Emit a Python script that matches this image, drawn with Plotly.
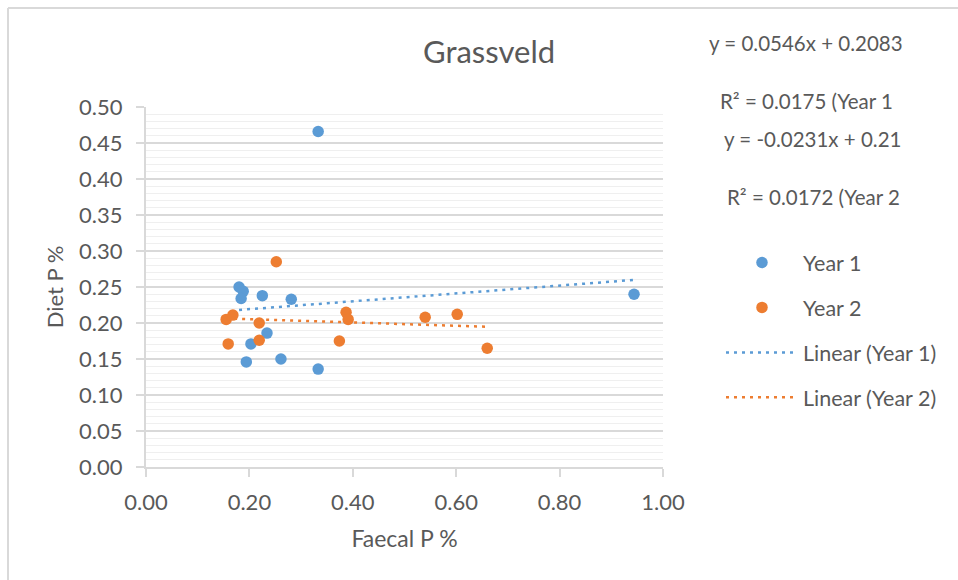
import plotly.graph_objects as go

# Faecal P % (x) and Diet P % (y) per sampling year
year1_faecal = [0.333, 0.180, 0.188, 0.184, 0.225, 0.281, 0.234, 0.203, 0.194, 0.261, 0.333, 0.944]
year1_diet = [0.466, 0.250, 0.244, 0.234, 0.238, 0.233, 0.186, 0.171, 0.146, 0.150, 0.136, 0.240]

year2_faecal = [0.252, 0.155, 0.168, 0.219, 0.219, 0.159, 0.374, 0.387, 0.391, 0.540, 0.602, 0.660]
year2_diet = [0.285, 0.205, 0.211, 0.200, 0.176, 0.171, 0.175, 0.215, 0.205, 0.208, 0.212, 0.165]

# Linear trendline coefficients (slope, intercept, R²)
trend1 = (0.0546, 0.2083, 0.0175)
trend2 = (-0.0231, 0.21, 0.0172)

x_ticks = [0.0, 0.2, 0.4, 0.6, 0.8, 1.0]
y_ticks = [0.00, 0.05, 0.10, 0.15, 0.20, 0.25, 0.30, 0.35, 0.40, 0.45, 0.50]

BLUE = "#5B9BD5"
ORANGE = "#ED7D31"
TEXT = "#595959"
FONT = "Lato"


def trend_points(xs, coef):
    lo, hi = min(xs), max(xs)
    return [lo, hi], [coef[0] * lo + coef[1], coef[0] * hi + coef[1]]


fig = go.Figure()
fig.add_trace(go.Scatter(x=year1_faecal, y=year1_diet, mode="markers", name="Year 1",
                         legendgroup="g1",
                         marker=dict(color=BLUE, size=11.5, line=dict(width=0))))
fig.add_trace(go.Scatter(x=year2_faecal, y=year2_diet, mode="markers", name="Year 2",
                         legendgroup="g2",
                         marker=dict(color=ORANGE, size=11.5, line=dict(width=0))))
tx, ty = trend_points(year1_faecal, trend1)
fig.add_trace(go.Scatter(x=tx, y=ty, mode="lines", name="Linear (Year 1)", legendgroup="g3",
                         line=dict(color=BLUE, width=2.5, dash="3px,5px")))
tx, ty = trend_points(year2_faecal, trend2)
fig.add_trace(go.Scatter(x=tx, y=ty, mode="lines", name="Linear (Year 2)", legendgroup="g4",
                         line=dict(color=ORANGE, width=2.5, dash="3px,5px")))

L, R, T, B = 146, 295, 107, 113
W, H = 958, 580
pw, ph = W - L - R, H - T - B


def px(xp):
    return (xp - L) / pw


def py(yp):
    return (H - B - yp) / ph


fmt = lambda v: f"{v:.2f}"

fig.update_layout(
    width=W, height=H,
    margin=dict(l=L, r=R, t=T, b=B, pad=0),
    paper_bgcolor="white", plot_bgcolor="white",
    font=dict(family=FONT, color=TEXT, size=22),
    showlegend=True,
    legend=dict(x=px(721), y=py(242), xanchor="left", yanchor="top",
                traceorder="grouped", tracegroupgap=14, itemwidth=72,
                font=dict(size=21.5, color=TEXT), bgcolor="rgba(0,0,0,0)"),
    xaxis=dict(range=[0, 1], tickvals=x_ticks, ticktext=[fmt(v) for v in x_ticks],
               showgrid=False, zeroline=False, showline=True, linecolor="#d9d9d9", linewidth=2,
               ticks="outside", ticklen=8, tickwidth=2, tickcolor="#d9d9d9",
               tickfont=dict(size=22, color=TEXT), ticklabelstandoff=7,
               title=dict(text="Faecal P %", font=dict(size=23, color=TEXT), standoff=16)),
    yaxis=dict(range=[0, 0.5], tickvals=y_ticks, ticktext=[fmt(v) for v in y_ticks],
               showgrid=True, gridcolor="#d9d9d9", gridwidth=1.5,
               minor=dict(dtick=0.01, showgrid=True, gridcolor="#efefef", gridwidth=1),
               zeroline=False, showline=True, linecolor="#d9d9d9", linewidth=2,
               ticks="outside", ticklen=8, tickwidth=2, tickcolor="#d9d9d9",
               tickfont=dict(size=22, color=TEXT), ticklabelstandoff=9,
               title=dict(text="Diet P %", font=dict(size=22, color=TEXT), standoff=9)),
)

# Chart title
fig.add_annotation(text="Grassveld", xref="paper", yref="paper", x=px(489), y=py(51),
                   xanchor="center", yanchor="middle", showarrow=False,
                   font=dict(size=31, color=TEXT, family=FONT))

# Trendline equation labels
labels = [
    (f"y = {trend1[0]}x + {trend1[1]}", 806, 43),
    (f"R² = {trend1[2]} (Year 1", 806, 101),
    (f"y = {trend2[0]}x + {trend2[1]}", 812, 139),
    (f"R² = {trend2[2]} (Year 2", 813, 197),
]
for text, xc, yc in labels:
    fig.add_annotation(text=text, xref="paper", yref="paper", x=px(xc), y=py(yc),
                       xanchor="center", yanchor="middle", showarrow=False,
                       font=dict(size=20.5, color=TEXT, family=FONT))

# Chart-area border (top and left edges)
fig.add_shape(type="line", xref="paper", yref="paper", x0=px(8), x1=px(W + 5), y0=py(8), y1=py(8),
              line=dict(color="#d9d9d9", width=2))
fig.add_shape(type="line", xref="paper", yref="paper", x0=px(8), x1=px(8), y0=py(8), y1=py(H + 5),
              line=dict(color="#d9d9d9", width=2))

fig.write_html("out.html")
